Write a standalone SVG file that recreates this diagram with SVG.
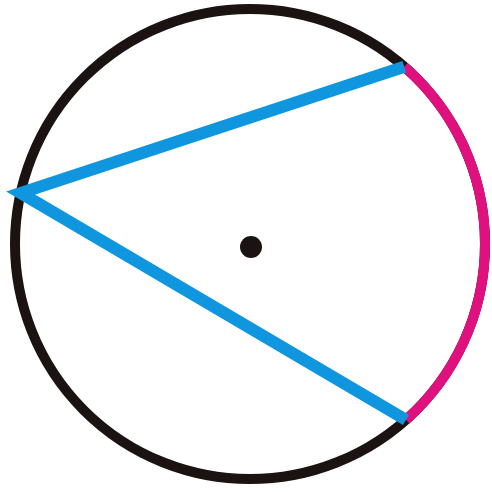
<svg xmlns="http://www.w3.org/2000/svg" width="492" height="492" viewBox="0 0 492 492">
<style>
.circ{fill:none;stroke:#1a1311;stroke-width:10}
.arc{fill:none;stroke:#e0117f;stroke-width:10}
.chord{fill:none;stroke:#0f96df;stroke-width:12;stroke-linejoin:miter;stroke-miterlimit:10}
</style>
<rect width="492" height="492" fill="#fff"/>
<g id="circle"><circle class="circ" cx="250" cy="244" r="235"/></g>
<g id="arc"><path class="arc" d="M404.3 66.8 A235 235 0 0 1 406 419.8"/></g>
<g id="connectors"><polyline class="chord" points="404.3,66.8 20.6,193 406,419.8"/></g>
<g id="center"><circle cx="251" cy="247" r="11" fill="#1a1311"/></g>
</svg>
